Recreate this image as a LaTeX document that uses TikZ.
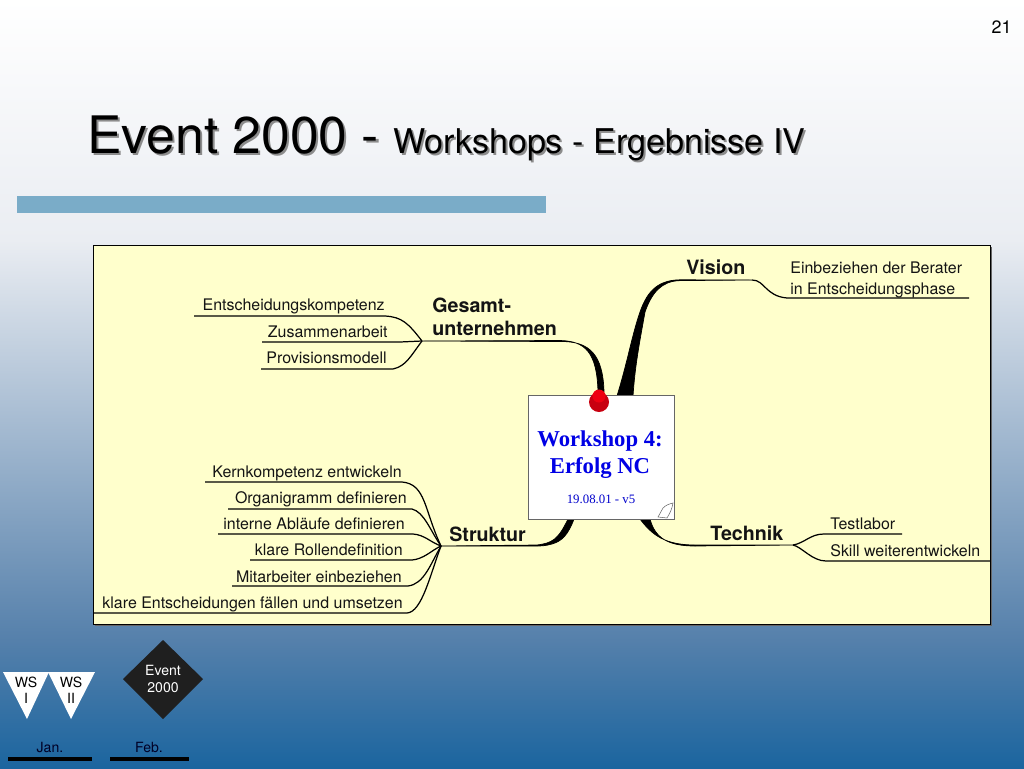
\documentclass[tikz,border=0pt]{standalone}
\usepackage{fontspec}
\setmainfont{TeX Gyre Heros}
\newfontfamily\serifbold{Liberation Serif}
\usetikzlibrary{positioning}
\usetikzlibrary{calc}
\definecolor{bgmid}{HTML}{EAEDF2}
\definecolor{bglow}{HTML}{5580AB}
\definecolor{bgend}{HTML}{1B659F}
\definecolor{barblue}{HTML}{7AACC8}
\definecolor{panel}{HTML}{FFFFCC}
\definecolor{pinred}{HTML}{C80010}
\definecolor{pintop}{HTML}{EE0010}
\definecolor{ink}{HTML}{141414}
\begin{document}
\begin{tikzpicture}[x=0.02cm,y=-0.02cm]
		\tikzset{item/.style = {anchor=base east,inner sep=0pt,text=ink,font=\fontsize{9.08}{11}\selectfont}}
		\tikzset{itemleft/.style = {item,anchor=base west}}
		\tikzset{topic/.style = {anchor=base west,inner sep=0pt,text=ink,font=\fontsize{11.2}{13}\selectfont\bfseries}}
		\tikzset{month/.style = {inner sep=0pt,text=black!85!blue,font=\fontsize{8}{10}\selectfont}}
		\tikzset{twig/.style = {draw=black,line width=0.7pt}}
		\tikzset{limb/.style = {fill=black,draw=black,line width=0.4pt}}
		\tikzset{rule/.style = {draw=black,line width=1.9pt}}
		\tikzset{ws/.style = {fill=white,draw=none}}
		\tikzset{wstext/.style = {inner sep=0pt,align=center,text=black,font=\fontsize{8}{9.4}\selectfont}}
		\useasboundingbox (0,0) rectangle (1024,768);
		% background
		\shade[top color=white,bottom color=bgmid] (0,0) rectangle (1024,240);
		\shade[top color=bgmid,bottom color=bglow] (0,240) rectangle (1024,640);
		\shade[top color=bglow,bottom color=bgend] (0,640) rectangle (1024,768);
		\fill[barblue] (17,196) rectangle (546,213);
		
		\node[anchor=base east,inner sep=0pt,font=\fontsize{10.2}{12}\selectfont] (page) at (1012,33) {21};
		\node[anchor=base west,inner sep=0pt,text=black!45,font=\fontsize{29.4}{34}\selectfont] (titleshadow) at (89,155) {Event 2000 - {\fontsize{19.4}{24}\selectfont Workshops - Ergebnisse IV}};
		\node[anchor=base west,inner sep=0pt,font=\fontsize{29.4}{34}\selectfont] (title) at (87,153) {Event 2000 - {\fontsize{19.4}{24}\selectfont Workshops - Ergebnisse IV}};
		
		% panel
		\fill[black!60] (95,247) rectangle (992,626);
		\node[draw=black,fill=panel,line width=0.6pt,minimum width=17.94cm,minimum height=7.58cm,inner sep=0pt,anchor=north west] (board) at (93,245) {};
		
		% hubs
		\coordinate (hubG) at (422,341);
		\coordinate (hubS) at (441,546);
		\coordinate (hubT) at (793,545);
		\coordinate (visA) at (752,280);
		\coordinate (pin) at (599,402);
		
		% branches
		\fill[limb] (hubG) -- (560,340.5) .. controls (585,341) and (597,352) .. (598,392) -- (604,392) .. controls (603,355) and (590,341) .. (560,341.5) -- cycle;
		\fill[limb] (617,396) .. controls (628,360) and (632,335) .. (640,312) .. controls (646,295) and (655,280) .. (680,279.8) -- (visA) -- (680,280.6) .. controls (662,281) and (652,292) .. (645,312) .. controls (640,340) and (635,365) .. (633,396) -- cycle;
		\fill[limb] (hubS) -- (537,545) .. controls (552,543) and (558,540) .. (568,519) -- (574,519) .. controls (568,535) and (562,541) .. (552,544) .. controls (545,546) and (540,546) .. (537,546) -- cycle;
		\fill[limb] (640,519) .. controls (652,535) and (665,545) .. (695,545) -- (hubT) -- (695,546) .. controls (668,546) and (655,538) .. (650,519) -- cycle;
		
		% note
		\node[draw=black!60,fill=white,line width=0.6pt,minimum width=2.92cm,minimum height=2.48cm,inner sep=0pt,anchor=north west] (note) at (528,395) {};
		\node[inner sep=0pt,text=blue!90!black,align=center,font=\serifbold\fontsize{12.9}{14.9}\selectfont\bfseries,anchor=base] (wsname) at (600,473) {Workshop 4:\\Erfolg NC};
		\node[inner sep=0pt,text=blue!80!black,font=\serifbold\fontsize{7.3}{9}\selectfont,anchor=base] (wsdate) at (601,503) {19.08.01 - v5};
		\draw[black!60,line width=0.3pt,fill=white] (658,517) -- (663,508) .. controls (666,505) and (669,504) .. (673,503) .. controls (672,509) and (670,513) .. (667,518) -- cycle;
		\fill[pinred] (pin) circle (10);
		\fill[pintop] (599,396) circle (6.5);
		
		% labels
		\node[topic,align=left] (gesamt) at (432,335) {Gesamt-\\unternehmen};
		\node[topic] (vision) at (686,274) {Vision};
		\node[topic] (struktur) at (449,541) {Struktur};
		\node[topic] (technik) at (710,540) {Technik};
		
		\node[item] (entsch) at (385,310) {Entscheidungskompetenz};
		\node[item] (zusam) at (388,337) {Zusammenarbeit};
		\node[item] (provis) at (387,363) {Provisionsmodell};
		
		\node[item] (kern) at (402,477) {Kernkompetenz entwickeln};
		\node[item] (organ) at (407,503) {Organigramm definieren};
		\node[item] (ablauf) at (405,529) {interne Abläufe definieren};
		\node[item] (rollen) at (403,555) {klare Rollendefinition};
		\node[item] (mitarb) at (402,582) {Mitarbeiter einbeziehen};
		\node[item] (klare) at (403,608) {klare Entscheidungen fällen und umsetzen};
		
		\node[itemleft] (einbez) at (790,273) {Einbeziehen der Berater};
		\node[itemleft] (phase) at (790,294) {in Entscheidungsphase};
		\node[itemleft] (testlab) at (830,529) {Testlabor};
		\node[itemleft] (skill) at (830,556) {Skill weiterentwickeln};
		
		% line ends
		\coordinate (entschL) at (194,316);
		\coordinate (zusamL) at (262,342);
		\coordinate (provisL) at (261,369);
		\coordinate (kernL) at (205,482);
		\coordinate (organL) at (228,509);
		\coordinate (ablaufL) at (218,534);
		\coordinate (rollenL) at (250,560);
		\coordinate (mitarbL) at (232,586);
		\coordinate (klareL) at (93,613);
		\coordinate (phaseR) at (969,298);
		\coordinate (testlabR) at (902,534);
		\coordinate (skillR) at (990,561);
		
		%edges
		\draw[twig] (entschL) -- (385,316) .. controls (402,317) and (408,323) .. (hubG);
		\draw[twig] (zusamL) -- (400,342) -- (hubG);
		\draw[twig] (provisL) -- (393,369) .. controls (406,366) and (410,357) .. (hubG);
		
		\draw[twig] (kernL) -- (402,482) .. controls (426,484) and (424,510) .. (hubS);
		\draw[twig] (organL) -- (412,509) .. controls (424,512) and (430,530) .. (hubS);
		\draw[twig] (ablaufL) -- (413,534) .. controls (425,535) and (430,542) .. (hubS);
		\draw[twig] (rollenL) -- (412,560) .. controls (424,559) and (432,550) .. (hubS);
		\draw[twig] (mitarbL) -- (408,586) .. controls (424,584) and (430,565) .. (hubS);
		\draw[twig] (klareL) -- (407,613) .. controls (422,612) and (430,575) .. (hubS);
		
		\draw[twig] (visA) .. controls (765,280) and (765,296) .. (787,298) -- (phaseR);
		\draw[twig] (hubT) .. controls (805,543) and (810,534) .. (824,534) -- (testlabR);
		\draw[twig] (hubT) .. controls (802,547) and (812,561) .. (826,561) -- (skillR);
		
		% timeline
		\fill[ws] (3,672) -- (49,672) -- (27,719) -- cycle;
		\fill[ws] (48,672) -- (95,672) -- (71,719) -- cycle;
		\node[wstext] (wsone) at (26,690) {WS\\I};
		\node[wstext] (wstwo) at (71,690) {WS\\II};
		\fill[black!88] (163,640) -- (203,679) -- (163,719) -- (123,679) -- cycle;
		\node[wstext,text=white] (eventmark) at (163,679) {Event\\2000};
		\node[month] (jan) at (50,747) {Jan.};
		\node[month] (feb) at (149,747) {Feb.};
		\draw[rule] (8,759) -- (92,759);
		\draw[rule] (110,759) -- (189,759);
\end{tikzpicture}
\end{document}
